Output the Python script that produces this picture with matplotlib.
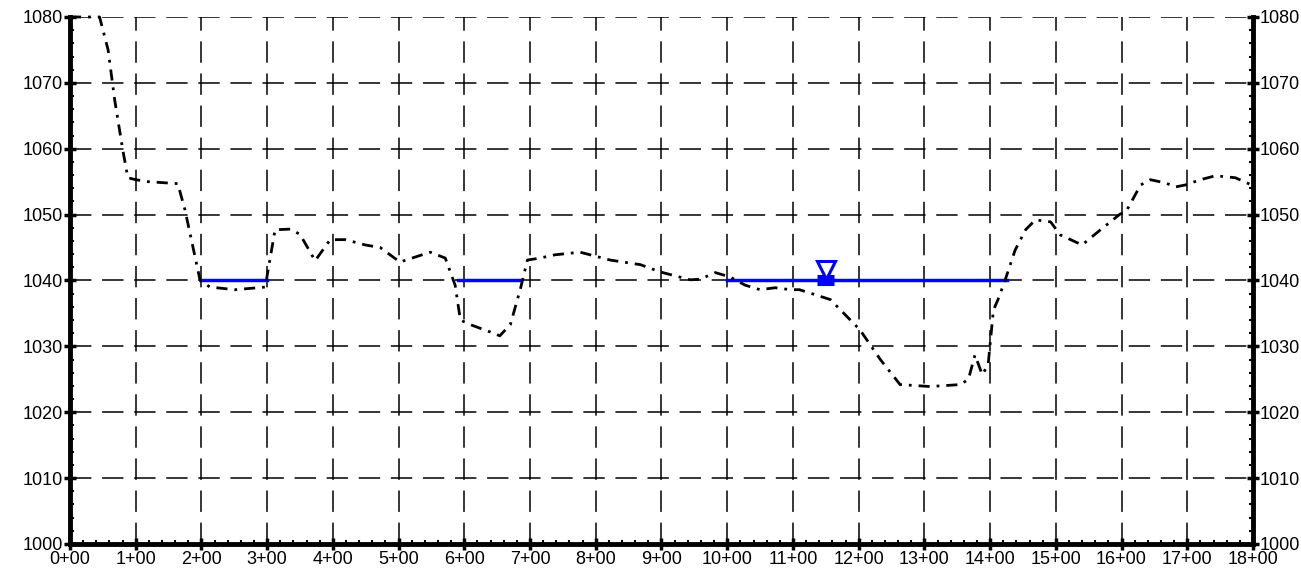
import matplotlib
matplotlib.use("Agg")
import matplotlib.pyplot as plt
from matplotlib.ticker import MultipleLocator, FuncFormatter

plt.rcParams["font.family"] = ["Liberation Sans", "DejaVu Sans"]

# ground profile: station (hundreds of ft) vs elevation
station = [0.0, 0.45, 0.58, 0.68, 0.8, 0.88, 1.0, 1.19, 1.64, 1.75, 1.98, 2.13, 2.51, 2.97,
           3.12, 3.35, 3.5, 3.73, 3.96, 4.19, 4.49, 4.72, 5.02, 5.48, 5.71, 5.86, 5.94,
           6.09, 6.39, 6.54, 6.7, 6.85, 6.96, 7.15, 7.38, 7.76, 8.22, 8.68, 8.98, 9.44,
           9.59, 9.82, 10.05, 10.27, 10.5, 10.73, 10.96, 11.1, 11.57, 12.02, 12.33, 12.63,
           13.09, 13.55, 13.67, 13.77, 13.88, 13.97, 14.05, 14.12, 14.23, 14.38, 14.54,
           14.69, 14.92, 15.07, 15.4, 15.68, 15.98, 16.06, 16.29, 16.44, 16.67, 16.82,
           16.97, 17.2, 17.43, 17.73, 18.0]
elevation = [1080, 1080, 1075, 1067.4, 1060, 1055.6, 1055.3, 1055, 1054.7, 1050.7, 1040,
             1039, 1038.6, 1039, 1047.7, 1047.8, 1047, 1043, 1046.2, 1046.2, 1045.4, 1045,
             1042.8, 1044.3, 1043.4, 1039.3, 1034, 1033.3, 1032.2, 1031.6, 1033.3, 1038.6,
             1043.1, 1043.4, 1043.9, 1044.3, 1043.1, 1042.4, 1041.3, 1040.1, 1040.2, 1041.2,
             1040.5, 1039.3, 1038.6, 1038.9, 1038.6, 1038.6, 1037.1, 1032.5, 1028, 1024.2,
             1023.9, 1024.2, 1025, 1028.7, 1025.7, 1027.2, 1035.5, 1037.1, 1040.1, 1044.6,
             1047.7, 1049.2, 1048.9, 1046.9, 1045.4, 1047.7, 1050.1, 1050.3, 1054.5, 1055.3,
             1054.8, 1054.2, 1054.5, 1055.3, 1055.9, 1055.6, 1054.4]

# water surface segments at elevation 1040
water_elev = 1040
water_segments = [(2.0, 3.0), (5.9, 6.85), (10.0, 14.25)]
ws_marker_station = 11.5

fig = plt.figure(figsize=(13.01, 5.76), dpi=100)
ax = fig.add_axes([0.0538, 0.0556, 0.9093, 0.9149])

ax.set_xlim(0, 18)
ax.set_ylim(1000, 1080)

grid_style = dict(color="black", lw=1.1, linestyle=(0, (14, 7)), zorder=1)
for x in range(1, 18):
    ax.axvline(x, **grid_style)
for y in range(1010, 1081, 10):
    ax.axhline(y, **grid_style)

for x0, x1 in water_segments:
    ax.plot([x0, x1], [water_elev, water_elev], color="#0000ff", lw=2.5, zorder=3)

ax.plot(station, elevation, color="black", lw=2.0,
        linestyle=(0, (4, 2.5, 1, 2.5)), zorder=4, clip_on=False)

# water surface symbol
ax.plot([ws_marker_station - 0.13, ws_marker_station + 0.13], [water_elev, water_elev],
        color="#0000ff", lw=8, solid_capstyle="butt", zorder=5)
ax.plot([ws_marker_station], [water_elev + 1.6], marker="v", markersize=13,
        markerfacecolor="white", markeredgecolor="#0000ff", markeredgewidth=2.2, zorder=6)

ax.spines["top"].set_visible(False)
for side in ("left", "bottom", "right"):
    ax.spines[side].set_linewidth(3.5)

ax.xaxis.set_major_locator(MultipleLocator(1))
ax.xaxis.set_minor_locator(MultipleLocator(0.2))
ax.yaxis.set_major_locator(MultipleLocator(10))
ax.yaxis.set_minor_locator(MultipleLocator(2))
ax.xaxis.set_major_formatter(FuncFormatter(lambda v, p: f"{int(round(v))}+00"))

ax.tick_params(which="major", direction="inout", length=8, width=2.5,
               labelsize=13, pad=1, left=True, right=True,
               labelleft=True, labelright=True)
ax.tick_params(which="minor", direction="in", length=3, width=1.5,
               left=True, right=True)

fig.savefig("out.png", dpi=100, facecolor="white")
